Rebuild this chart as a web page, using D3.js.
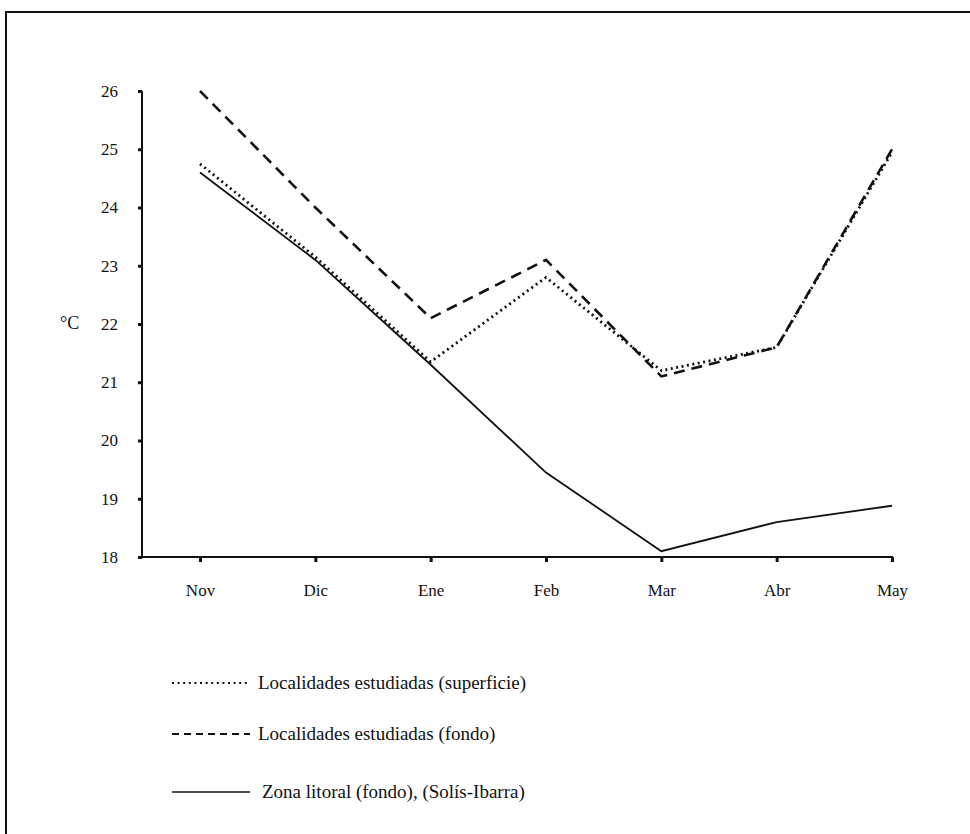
<!DOCTYPE html>
<html>
<head>
<meta charset="utf-8">
<script src="https://cdn.jsdelivr.net/npm/d3@7"></script>
<style>
  body { margin: 0; background: #fff; }
  text { font-family: "Liberation Serif", "DejaVu Serif", serif; fill: #111; }
</style>
</head>
<body>
<div id="chart"></div>
<script>
var svgWidth = 970;
var svgHeight = 834;

// data
var months = ["Nov", "Dic", "Ene", "Feb", "Mar", "Abr", "May"];
var superficie = [24.75, 23.15, 21.35, 22.8, 21.2, 21.6, 24.95];
var fondo = [26.0, 24.0, 22.1, 23.1, 21.1, 21.6, 25.0];
var litoral = [24.6, 23.1, 21.3, 19.45, 18.1, 18.6, 18.88];
var yTicks = [18, 19, 20, 21, 22, 23, 24, 25, 26];
var legendLabels = [
    "Localidades estudiadas (superficie)",
    "Localidades estudiadas (fondo)",
    "Zona litoral (fondo), (Solís-Ibarra)"
];

var svg = d3.select("#chart")
    .append("svg")
    .attr("width", svgWidth)
    .attr("height", svgHeight);

// frame of the scanned page (top and left edges)
svg.append("path")
    .attr("d", "M6,834 V12 H970")
    .attr("fill", "none")
    .attr("stroke", "#111")
    .attr("stroke-width", 2);

var xScale = d3.scalePoint()
    .domain(months)
    .range([200, 892]);

var yScale = d3.scaleLinear()
    .domain([18, 26])
    .range([557, 91]);

// x axis
var bottomAxis = d3.axisBottom(xScale).tickSize(5).tickPadding(22);
var gx = svg.append("g")
    .attr("transform", "translate(0, 557)")
    .call(bottomAxis);
gx.select(".domain").attr("d", "M142,0H893");

// y axis
var leftAxis = d3.axisLeft(yScale).tickValues(yTicks).tickSize(4).tickPadding(20);
var gy = svg.append("g")
    .attr("transform", "translate(142, 0)")
    .call(leftAxis);
gy.select(".domain").attr("d", "M0,91V557");

svg.selectAll(".domain")
    .attr("stroke", "#111")
    .attr("stroke-width", 2);
svg.selectAll(".tick line")
    .attr("stroke", "#111")
    .attr("stroke-width", 3);
svg.selectAll(".tick text")
    .style("font-size", "17px")
    .attr("fill", "#111");

svg.append("text")
    .attr("x", 60)
    .attr("y", 329)
    .style("font-size", "18px")
    .text("°C");

var lineGen = d3.line()
    .x((d, i) => xScale(months[i]))
    .y(d => yScale(d));

var styles = [
    { data: superficie, dash: "2,3.5", width: 2.8 },
    { data: fondo, dash: "11,7", width: 2.6 },
    { data: litoral, dash: null, width: 1.8 }
];

styles.forEach(function (s) {
    svg.append("path")
        .datum(s.data)
        .attr("d", lineGen)
        .attr("fill", "none")
        .attr("stroke", "#111")
        .attr("stroke-width", s.width)
        .attr("stroke-dasharray", s.dash);
});

// legend
var legendY = [683, 734, 792];
var legend = svg.selectAll(".legend")
    .data(legendLabels)
    .enter()
    .append("g")
    .attr("class", "legend")
    .attr("transform", (d, i) => `translate(0, ${legendY[i]})`);

legend.append("line")
    .attr("x1", 172)
    .attr("x2", 250)
    .attr("stroke", "#111")
    .attr("stroke-width", (d, i) => i == 2 ? 1.6 : 2.2)
    .attr("stroke-dasharray", (d, i) => i == 0 ? "2,3.6" : i == 1 ? "7,5" : null);

legend.append("text")
    .attr("x", (d, i) => i == 2 ? 262 : 258)
    .attr("y", 6)
    .style("font-size", "19px")
    .text(d => d);
</script>
</body>
</html>
